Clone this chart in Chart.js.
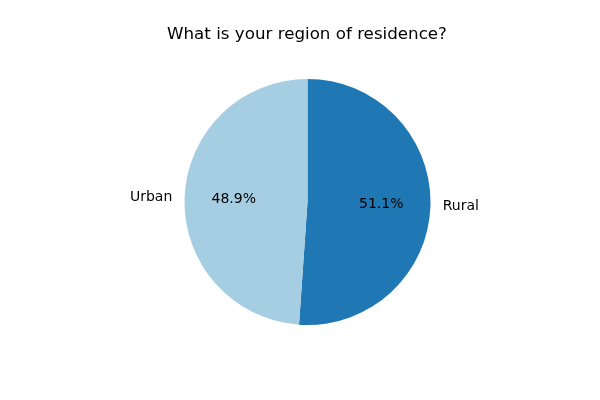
<!DOCTYPE html>
<html lang="en">
<head>
  <meta charset="UTF-8">
  <title>Region of residence</title>
  <script src="https://cdn.jsdelivr.net/npm/chart.js"></script>
  <style>
    html, body { margin: 0; padding: 0; background: #fff; }
    #wrap { width: 600px; height: 400px; }
  </style>
</head>
<body>
  <div id="wrap"><canvas id="pieChart" width="600" height="400"></canvas></div>
  <script>
    // data
    const regions = ["Rural", "Urban"];
    const shares = [51.1, 48.9];
    const colours = ["#1f78b4", "#a6cee3"];
    const chartTitle = "What is your region of residence?";

    // labels outside the slices + percentages inside, matplotlib style
    const pieLabels = {
      id: 'pieLabels',
      afterDraw(chart) {
        const ctx = chart.ctx;
        const arcs = chart.getDatasetMeta(0).data;
        ctx.save();
        ctx.fillStyle = '#000';
        ctx.textBaseline = 'middle';
        ctx.font = '14px "DejaVu Sans"';
        arcs.forEach((arc, i) => {
          const mid = (arc.startAngle + arc.endAngle) / 2;
          const r = arc.outerRadius;
          const c = Math.cos(mid), s = Math.sin(mid);
          ctx.textAlign = c > 0 ? 'left' : 'right';
          ctx.fillText(regions[i], arc.x + c * r * 1.1, arc.y + s * r * 1.1);
          ctx.textAlign = 'center';
          ctx.fillText(shares[i].toFixed(1) + '%', arc.x + c * r * 0.6, arc.y + s * r * 0.6);
        });
        ctx.font = '16.7px "DejaVu Sans"';
        ctx.textAlign = 'center';
        ctx.fillText(chartTitle, 307, 35);
        ctx.restore();
      }
    };

    new Chart(document.getElementById('pieChart'), {
      type: 'pie',
      data: {
        labels: regions,
        datasets: [{
          data: shares,
          backgroundColor: colours,
          borderWidth: 0
        }]
      },
      options: {
        responsive: false,
        animation: false,
        layout: { padding: { top: 79, bottom: 75, left: 184, right: 169 } },
        plugins: {
          legend: { display: false },
          title: { display: false },
          tooltip: { enabled: false }
        }
      },
      plugins: [pieLabels]
    });
  </script>
</body>
</html>
